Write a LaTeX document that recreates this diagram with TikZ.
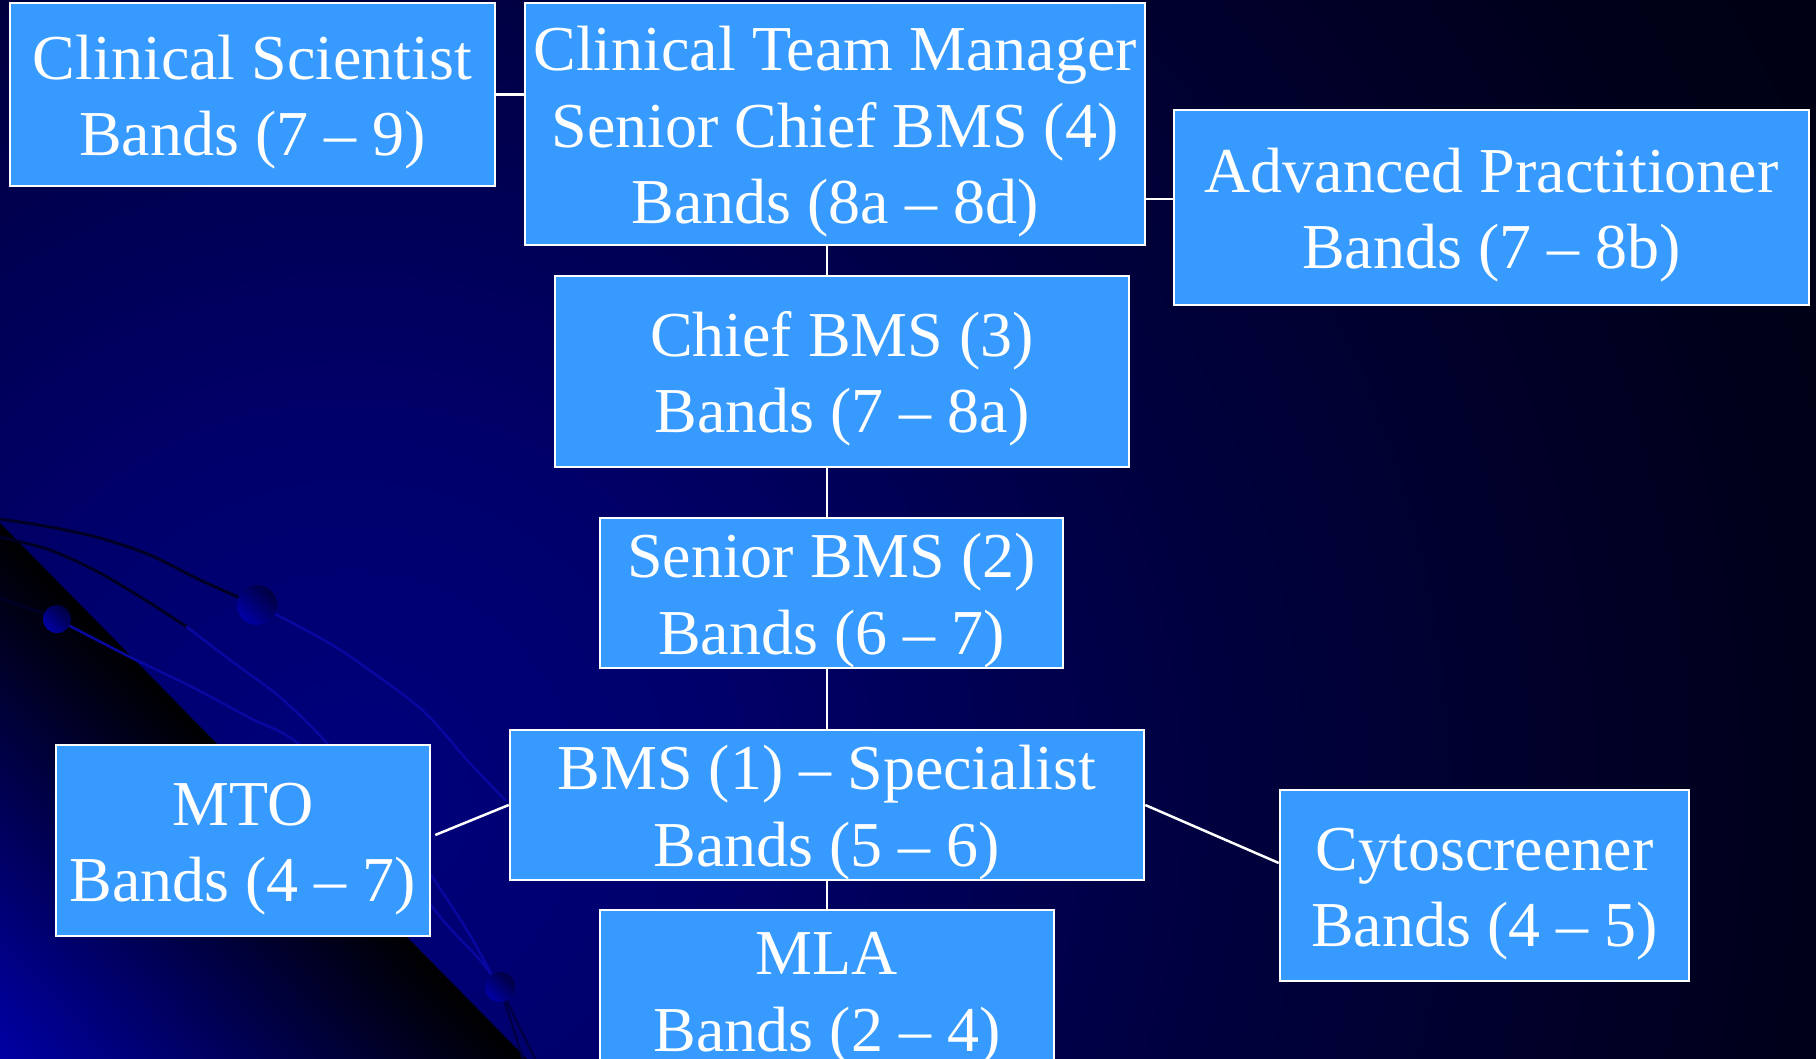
\documentclass[tikz,border=0pt]{standalone}
\usepackage{fontspec}
\setmainfont{Liberation Serif}
\usetikzlibrary{calc,shadings}

% palette
\definecolor{boxblue}{RGB}{54,154,255}
\definecolor{bgA}{RGB}{0,0,124}
\definecolor{bgB}{RGB}{0,0,108}
\definecolor{bgC}{RGB}{0,0,64}
\definecolor{bgD}{RGB}{0,0,24}
\definecolor{bgE}{RGB}{0,0,16}
\definecolor{swoosh}{RGB}{0,0,165}
\definecolor{swooshmid}{RGB}{0,0,40}
\definecolor{streakdark}{RGB}{0,0,38}
\definecolor{streaklight}{RGB}{8,8,160}
\definecolor{streaklow}{RGB}{0,0,70}
\definecolor{ballhi}{RGB}{0,0,190}
\definecolor{ballmid}{RGB}{0,0,110}
\definecolor{balllo}{RGB}{0,0,45}

% background glow, centred low on the left
\pgfdeclareradialshading{bgglow}{\pgfpoint{0bp}{0bp}}{%
  color(0bp)=(bgA); color(4.9bp)=(bgB); color(11.8bp)=(bgC);
  color(20.8bp)=(bgD); color(25bp)=(bgE); color(50bp)=(bgE)}

% extra room above the first line keeps the lines optically centred
\newcommand\firstlinegap{\rule{0pt}{60pt}}

\tikzset{
  gradebox/.style={rectangle, draw=white, line width=2.5pt, fill=boxblue,
    text=white, align=center, inner sep=0pt,
    font=\fontsize{64}{76.5}\selectfont},
  link/.style={draw=white, line width=2.5pt},
  streak/.style={line width=3pt, line cap=round},
  ball/.style={lower left=ballhi, upper right=balllo,
    upper left=ballmid, lower right=ballmid}
}

\begin{document}
\begin{tikzpicture}[x=1pt,y=-1pt]
\useasboundingbox (0,0) rectangle (1816,1059);
\clip (0,0) rectangle (1816,1059);

% backdrop
\fill[bgE] (0,0) rectangle (1816,1059);
\shade[shading=bgglow] (350,800) circle[radius=1800pt];

% dark wedge in the lower left corner
\begin{scope}
  \clip (0,523) -- (527,1059) -- (0,1059) -- cycle;
  \begin{scope}[transform canvas={rotate around={-45.5:(263.5,791)}}]
    \shade[top color=black, middle color=swooshmid, bottom color=swoosh]
      (-450,791) rectangle (950,1167);
  \end{scope}
\end{scope}

% streaks
\draw[streak, streakdark] plot[smooth] coordinates
  {(0,519) (50,527) (100,538) (150,555) (200,580) (245,600)};
\draw[streak, streaklight, line width=2.5pt] plot[smooth] coordinates
  {(265,609) (300,627) (345,653) (421,709) (467,760) (505,800)};
\draw[streak, streakdark] plot[smooth] coordinates
  {(0,537) (50,550) (100,573) (150,603) (187,627)};
\draw[streak, streaklight, line width=2.5pt] plot[smooth] coordinates
  {(187,627) (230,660) (280,697) (327,743) (390,815) (433,878) (470,935) (497,985)};
\draw[streak, streakdark] (0,598) -- (50,616);
\draw[streak, streaklight, line width=2.5pt] plot[smooth] coordinates
  {(68,625) (130,657) (192,687) (250,718) (300,745) (380,830) (437,913) (480,960) (500,987)};
\draw[streak, streaklow, line width=2.5pt] (500,987) -- (523,1059);
\draw[streak, streaklow, line width=2.5pt] (500,987) -- (535,1059);

% beads on the streaks
\shade[ball] (57,619) circle[radius=14pt];
\shade[ball] (257,605) circle[radius=20pt];
\shade[ball] (500,987) circle[radius=15pt];

% boxes
\node[gradebox, minimum width=485pt, minimum height=183pt] (cs) at (252.5,94.5)
  {\firstlinegap Clinical Scientist\\Bands (7 – 9)};
\node[gradebox, minimum width=620pt, minimum height=242pt] (ctm) at (835,124)
  {\firstlinegap Clinical Team Manager\\Senior Chief BMS (4)\\Bands (8a – 8d)};
\node[gradebox, minimum width=635pt, minimum height=195pt] (ap) at (1491.5,207.5)
  {\firstlinegap Advanced Practitioner\\Bands (7 – 8b)};
\node[gradebox, minimum width=574pt, minimum height=191pt] (chief) at (842,371.5)
  {\firstlinegap Chief BMS (3)\\Bands (7 – 8a)};
\node[gradebox, minimum width=463pt, minimum height=150pt] (sen) at (831.5,593)
  {\firstlinegap Senior BMS (2)\\Bands (6 – 7)};
\node[gradebox, minimum width=634pt, minimum height=150pt] (bms) at (827,805)
  {\firstlinegap BMS (1) – Specialist\\Bands (5 – 6)};
\node[gradebox, minimum width=374pt, minimum height=191pt] (mto) at (243,840.5)
  {\firstlinegap MTO\\Bands (4 – 7)};
\node[gradebox, minimum width=409pt, minimum height=191pt] (cyto) at (1484.5,885.5)
  {\firstlinegap Cytoscreener\\Bands (4 – 5)};
\node[gradebox, minimum width=454pt, minimum height=160pt] (mla) at (827,990)
  {\firstlinegap MLA\\Bands (2 – 4)};

% connectors
\draw[link] (cs.east) -- (cs.east -| ctm.west);
\draw[link] ([yshift=8.5pt]ap.west) -- ([yshift=8.5pt]ap.west -| ctm.east);
\draw[link] (ctm.south -| bms.center) -- (chief.north -| bms.center);
\draw[link] (chief.south -| bms.center) -- (sen.north -| bms.center);
\draw[link] (sen.south -| bms.center) -- (bms.north);
\draw[link] (bms.south) -- (mla.north);
\draw[link] ([xshift=4pt,yshift=5.5pt]mto.east) -- (bms.west);
\draw[link] (bms.east) -- ([yshift=22.5pt]cyto.west);
\end{tikzpicture}
\end{document}
